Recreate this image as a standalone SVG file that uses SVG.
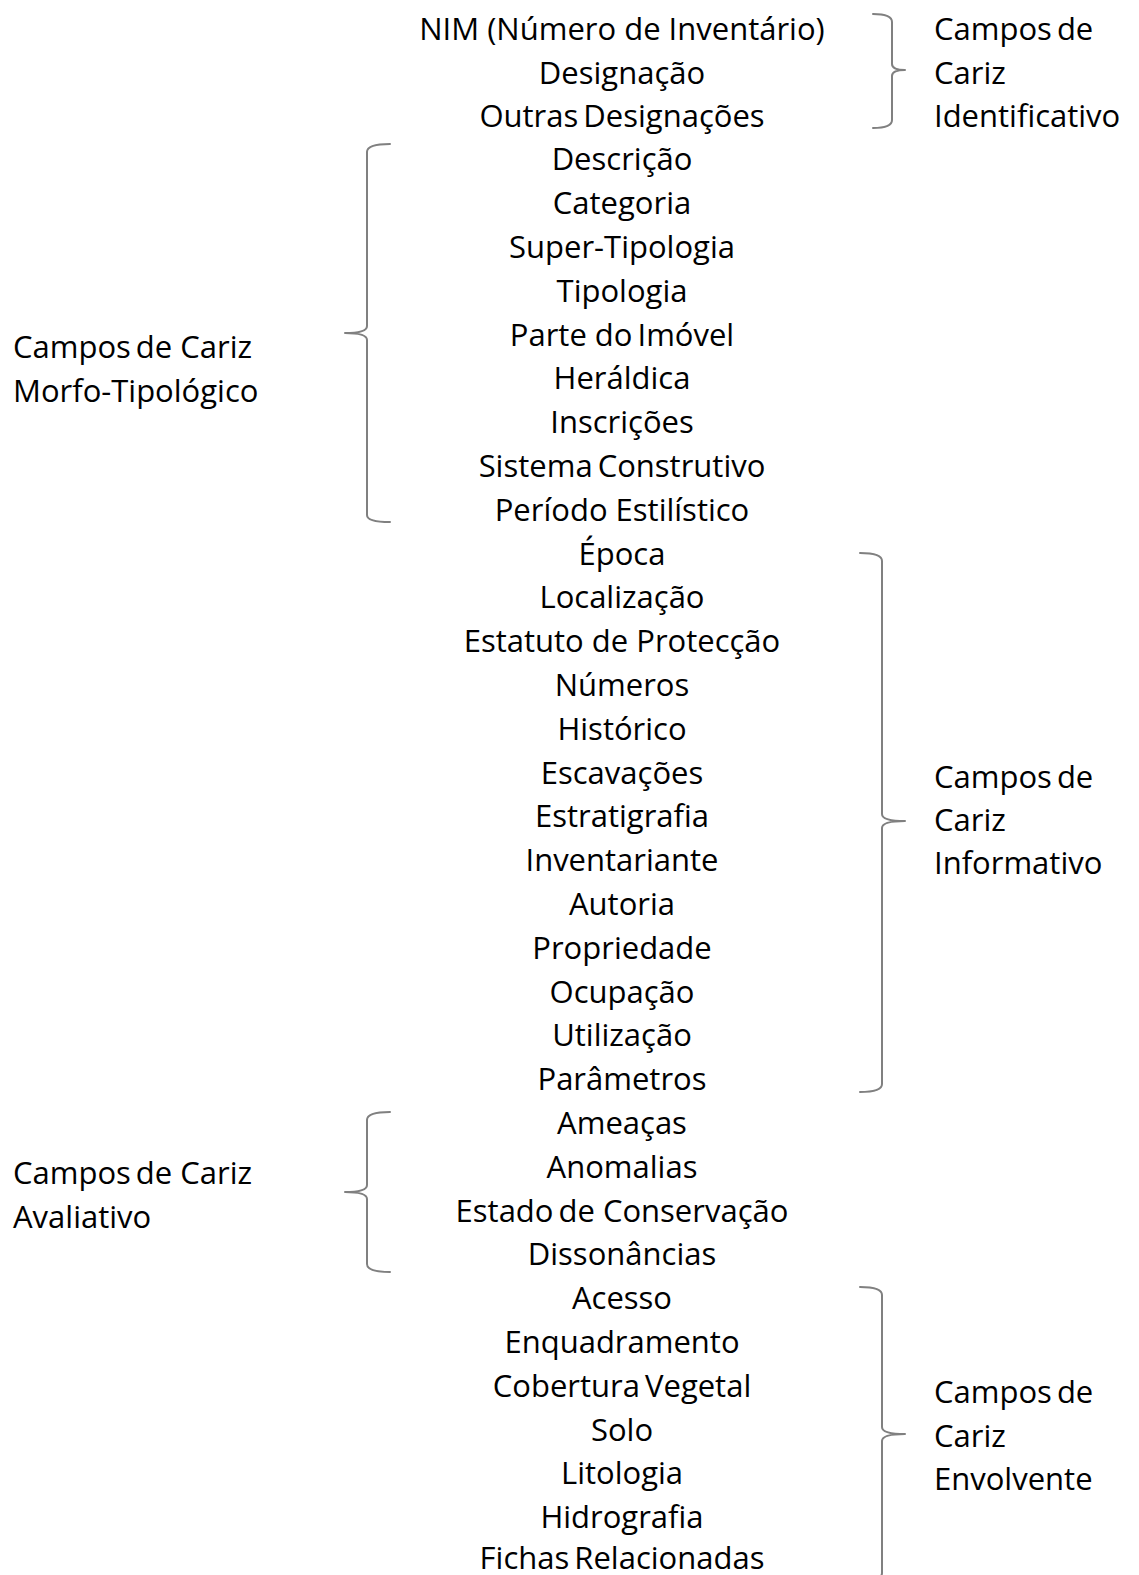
<svg xmlns="http://www.w3.org/2000/svg" width="1139" height="1575" viewBox="0 0 1139 1575">
  <style>
    text { font-family: "Open Sans", "Noto Sans", "Liberation Sans", sans-serif; font-size: 31px; fill: #000; }
    .field { text-anchor: middle; }
    .tight { word-spacing: -3px; }
    .brace { fill: none; stroke: #808080; stroke-width: 2; stroke-linecap: round; stroke-linejoin: round; }
  </style>
  <rect width="1139" height="1575" fill="#fff"/>

  <!-- central list of record fields -->
  <g id="fields" class="field">
    <text x="622" y="40">NIM (Número de Inventário)</text>
    <text x="622" y="83.5">Designação</text>
    <text x="622" y="127" class="tight">Outras Designações</text>
    <text x="622" y="170.4">Descrição</text>
    <text x="622" y="214.2">Categoria</text>
    <text x="622" y="258">Super-Tipologia</text>
    <text x="622" y="301.8">Tipologia</text>
    <text x="622" y="345.6">Parte do<tspan dx="5">Imóvel</tspan></text>
    <text x="622" y="389.4">Heráldica</text>
    <text x="622" y="433.2">Inscrições</text>
    <text x="622" y="477" class="tight">Sistema Construtivo</text>
    <text x="622" y="520.8">Período Estilístico</text>
    <text x="622" y="564.6">Época</text>
    <text x="622" y="608.4">Localização</text>
    <text x="622" y="652.2">Estatuto de Protecção</text>
    <text x="622" y="696">Números</text>
    <text x="622" y="739.8">Histórico</text>
    <text x="622" y="783.6">Escavações</text>
    <text x="622" y="827.4">Estratigrafia</text>
    <text x="622" y="871.2">Inventariante</text>
    <text x="622" y="915">Autoria</text>
    <text x="622" y="958.8">Propriedade</text>
    <text x="622" y="1002.6">Ocupação</text>
    <text x="622" y="1046.4">Utilização</text>
    <text x="622" y="1090.2">Parâmetros</text>
    <text x="622" y="1134">Ameaças</text>
    <text x="622" y="1177.8">Anomalias</text>
    <text x="622" y="1221.6">Estado<tspan dx="5">de Conservação</tspan></text>
    <text x="622" y="1265.4">Dissonâncias</text>
    <text x="622" y="1309.2">Acesso</text>
    <text x="622" y="1353">Enquadramento</text>
    <text x="622" y="1396.8" class="tight">Cobertura Vegetal</text>
    <text x="622" y="1440.6">Solo</text>
    <text x="622" y="1484.4">Litologia</text>
    <text x="622" y="1528.2">Hidrografia</text>
    <text x="622" y="1569" class="tight">Fichas Relacionadas</text>
  </g>

  <!-- group labels -->
  <g id="label-identificativo">
    <text x="934" y="40" class="tight">Campos de</text>
    <text x="934" y="83.5">Cariz</text>
    <text x="934" y="127">Identificativo</text>
  </g>
  <g id="label-morfo">
    <text x="13" y="358">Campos<tspan dx="5">de Cariz</tspan></text>
    <text x="13" y="402">Morfo-Tipológico</text>
  </g>
  <g id="label-informativo">
    <text x="934" y="788" class="tight">Campos de</text>
    <text x="934" y="831">Cariz</text>
    <text x="934" y="874">Informativo</text>
  </g>
  <g id="label-avaliativo">
    <text x="13" y="1184">Campos<tspan dx="5">de Cariz</tspan></text>
    <text x="13" y="1228">Avaliativo</text>
  </g>
  <g id="label-envolvente">
    <text x="934" y="1403" class="tight">Campos de</text>
    <text x="934" y="1447">Cariz</text>
    <text x="934" y="1490">Envolvente</text>
  </g>

  <!-- grouping braces -->
  <g id="braces" class="brace">
    <path d="M873,14 Q892,14 892,22 L892,64 Q892,70 905,70 Q892,70 892,76 L892,120 Q892,128 873,128"/>
    <path d="M390,144 Q367,144 367,152 L367,326 Q367,333 345,333 Q367,333 367,340 L367,515 Q367,522 390,522"/>
    <path d="M860,553 Q882,553 882,561 L882,814 Q882,821 905,821 Q882,821 882,828 L882,1084 Q882,1092 860,1092"/>
    <path d="M390,1112 Q367,1112 367,1120 L367,1185 Q367,1192 345,1192 Q367,1192 367,1199 L367,1264 Q367,1272 390,1272"/>
    <path d="M860,1287 Q882,1287 882,1295 L882,1427 Q882,1434 905,1434 Q882,1434 882,1441 L882,1573 Q882,1581 860,1581"/>
  </g>
</svg>
